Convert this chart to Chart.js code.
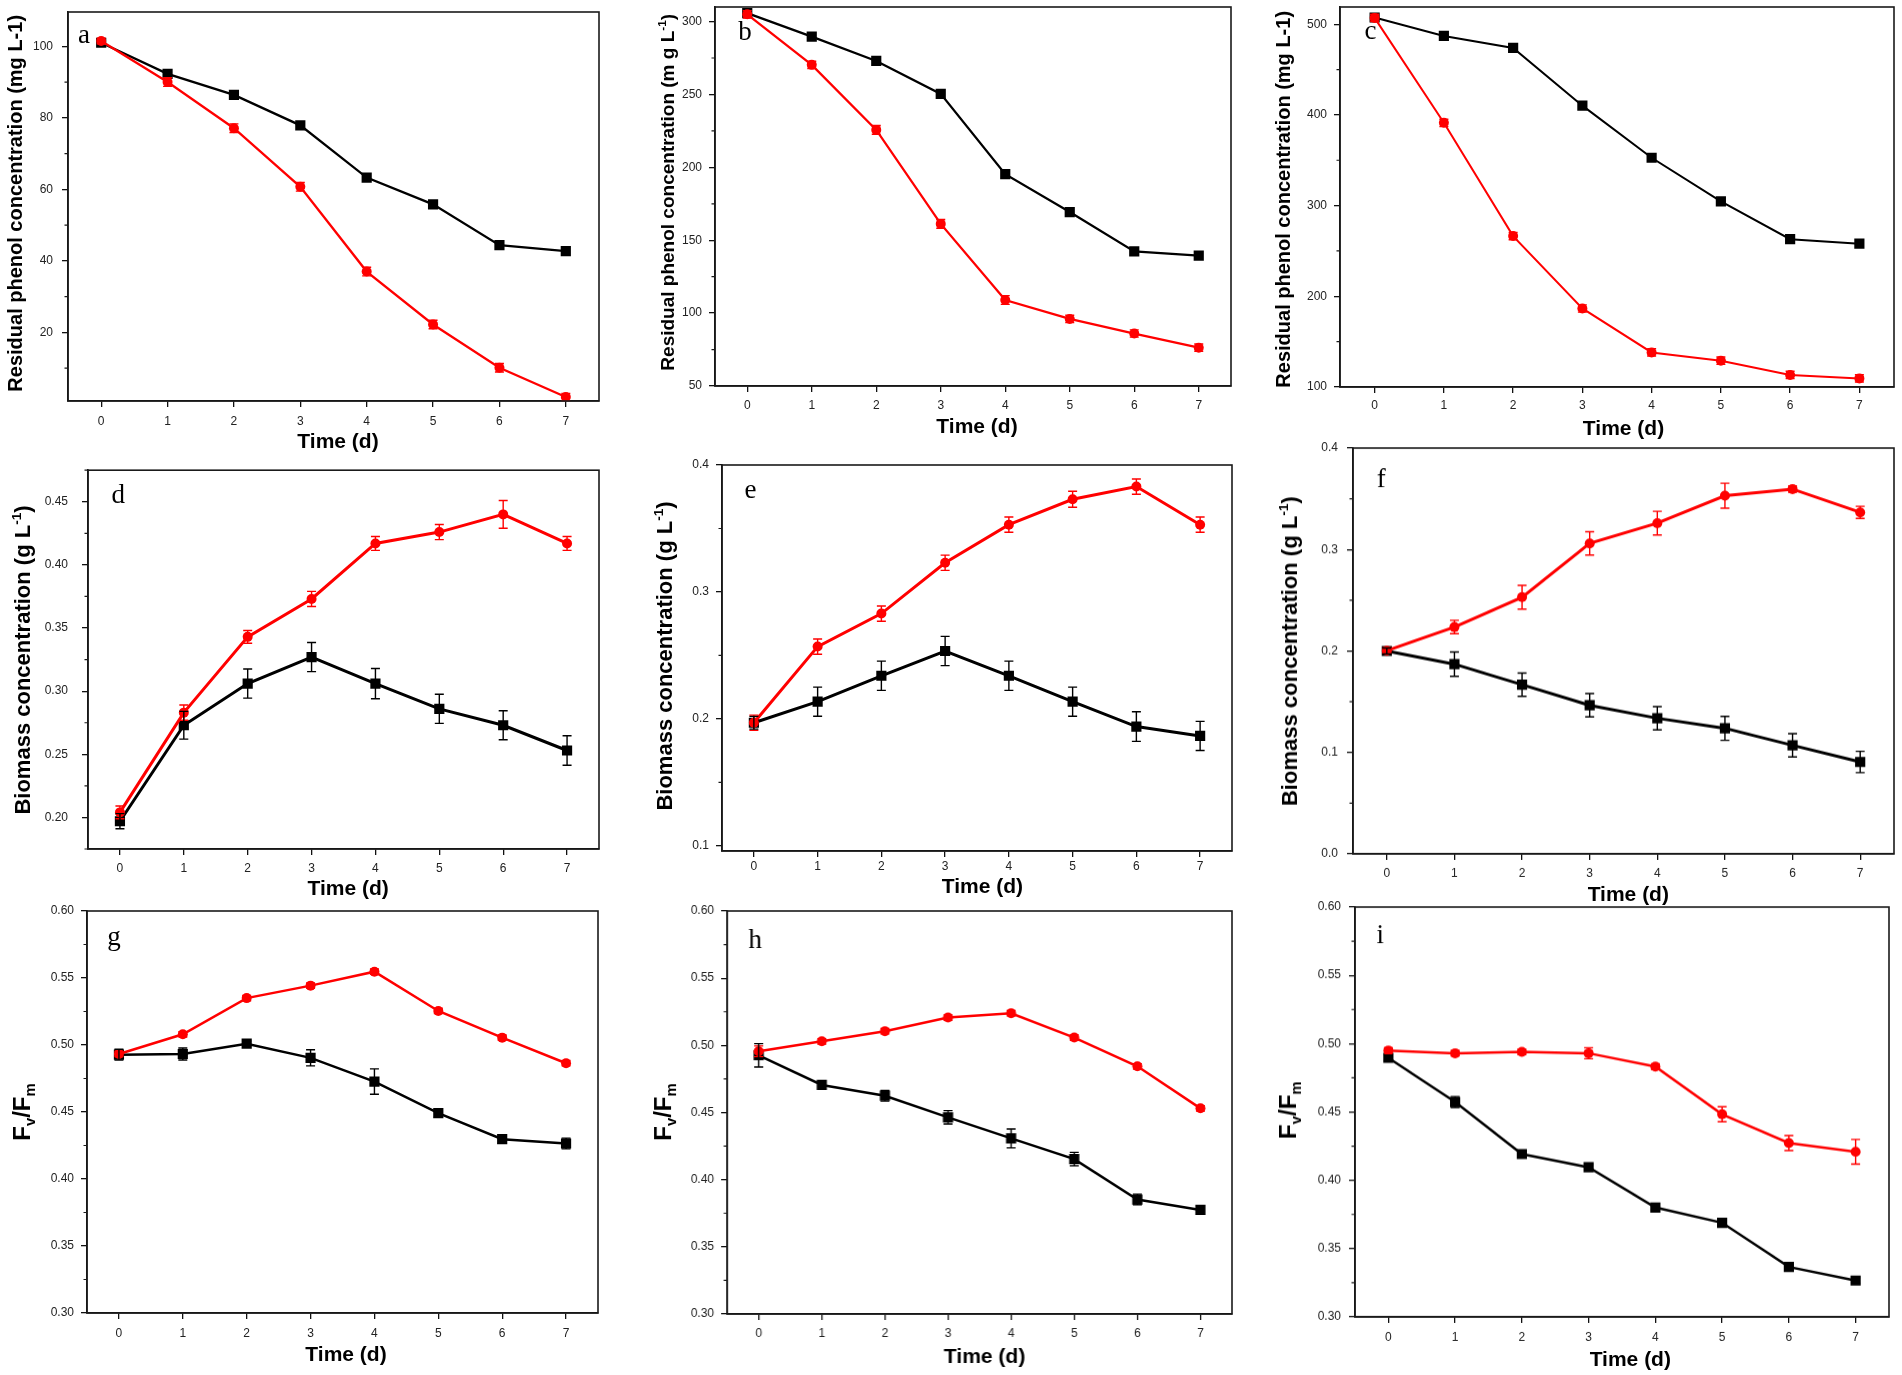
<!DOCTYPE html>
<html><head><meta charset="utf-8">
<script src="https://cdn.jsdelivr.net/npm/chart.js@4.4.1/dist/chart.umd.min.js"></script>
<style>
html,body{margin:0;padding:0;background:#fff;width:1902px;height:1375px;overflow:hidden;position:relative}
canvas{position:absolute}
</style></head><body>
<script>
// ---------- data ----------
const days = ['0','1','2','3','4','5','6','7'];

const aBlack = [101.0, 92.3, 86.4, 77.9, 63.3, 55.8, 44.4, 42.7];
const aRed   = [101.5, 90.0, 77.1, 60.7, 37.0, 22.2, 10.1, 1.9];
const aRedErr = [0.8, 1.2, 1.2, 1.2, 1.2, 1.2, 1.2, 1.0];
const aYTicks = ['20','40','60','80','100'];
const aRange = [0.8, 109.6];

const bBlack = [305.8, 289.7, 273.0, 250.4, 195.3, 169.3, 142.3, 139.5];
const bRed   = [305.0, 270.3, 225.7, 161.2, 109.0, 96.0, 86.0, 76.3];
const bRedErr = [2.5, 2.5, 3, 3, 3, 2.5, 2.5, 2.5];
const bYTicks = ['50','100','150','200','250','300'];
const bRange = [50, 310];

const cBlack = [507.4, 487.1, 473.9, 410.2, 352.8, 304.6, 263.0, 258.0];
const cRed   = [507.0, 391.3, 266.4, 186.6, 138.1, 129.0, 113.3, 109.5];
const cRedErr = [4, 4, 4, 4, 4, 4, 4, 4];
const cYTicks = ['100','200','300','400','500'];
const cRange = [100, 519];

const dRed   = [0.204, 0.283, 0.343, 0.373, 0.417, 0.426, 0.440, 0.417];
const dRedErr = [0.005, 0.006, 0.005, 0.006, 0.0055, 0.006, 0.011, 0.0055];
const dBlack = [0.197, 0.273, 0.306, 0.327, 0.306, 0.286, 0.273, 0.253];
const dBlackErr = [0.006, 0.011, 0.0115, 0.0115, 0.012, 0.0115, 0.0115, 0.0117];
const dYTicks = ['0.20','0.25','0.30','0.35','0.40','0.45'];
const dRange = [0.175, 0.475];

const eRed   = [0.197, 0.257, 0.283, 0.323, 0.353, 0.373, 0.383, 0.353];
const eRedErr = [0.006, 0.006, 0.006, 0.006, 0.006, 0.0063, 0.006, 0.006];
const eBlack = [0.197, 0.2136, 0.234, 0.2535, 0.234, 0.2136, 0.194, 0.1866];
const eBlackErr = [0.005, 0.0115, 0.0115, 0.0115, 0.0115, 0.0115, 0.0117, 0.0115];
const eYTicks = ['0.1','0.2','0.3','0.4'];
const eRange = [0.096, 0.4];

const fRed   = [0.2003, 0.2236, 0.253, 0.306, 0.326, 0.353, 0.3596, 0.3366];
const fRedErr = [0.003, 0.0066, 0.0117, 0.0115, 0.0117, 0.0123, 0.003, 0.006];
const fBlack = [0.200, 0.187, 0.1668, 0.1465, 0.1337, 0.1238, 0.107, 0.0906];
const fBlackErr = [0.003, 0.012, 0.0115, 0.0115, 0.0115, 0.0118, 0.0115, 0.0105];
const fYTicks = ['0.0','0.1','0.2','0.3','0.4'];
const fRange = [0, 0.4];

const gRed   = [0.4933, 0.508, 0.535, 0.5443, 0.5547, 0.5254, 0.5055, 0.4864];
const gRedErr = [0.002, 0.002, 0.002, 0.002, 0.002, 0.002, 0.002, 0.002];
const gBlack = [0.4928, 0.4933, 0.501, 0.4904, 0.4727, 0.4491, 0.4297, 0.4265];
const gBlackErr = [0.004, 0.0045, 0.002, 0.006, 0.0095, 0.003, 0.003, 0.004];

const hRed   = [0.4956, 0.503, 0.5105, 0.5207, 0.5239, 0.5058, 0.4844, 0.4531];
const hRedErr = [0.004, 0.002, 0.002, 0.002, 0.002, 0.002, 0.002, 0.002];
const hBlack = [0.4926, 0.4705, 0.4625, 0.4464, 0.4307, 0.4153, 0.3852, 0.3775];
const hBlackErr = [0.0087, 0.003, 0.004, 0.005, 0.007, 0.005, 0.004, 0.002];

const iRed   = [0.495, 0.493, 0.494, 0.493, 0.4832, 0.4483, 0.4273, 0.4209];
const iRedErr = [0.002, 0.002, 0.002, 0.004, 0.002, 0.0055, 0.0055, 0.009];
const iBlack = [0.4896, 0.4573, 0.4192, 0.4095, 0.3801, 0.3689, 0.3366, 0.3266];
const iBlackErr = [0.002, 0.004, 0.002, 0.002, 0.002, 0.002, 0.002, 0.002];

const fvYTicks = ['0.30','0.35','0.40','0.45','0.50','0.55','0.60'];
const fvRange = [0.30, 0.60];

const xTitle = 'Time (d)';
const phenolTitleA = [{t:'Residual phenol concentration (mg L-1)'}];
const phenolTitleB = [{t:'Residual phenol concentration (m g L'},{t:'-1',sup:true},{t:')'}];
const phenolTitleC = [{t:'Residual phenol concentration (mg L-1)'}];
const biomassTitle = [{t:'Biomass concentration (g L'},{t:'-1',sup:true},{t:')'}];
const fvTitle = [{t:'F'},{t:'v',sub:true},{t:'/F'},{t:'m',sub:true}];

// ---------- layout (positions / styles) ----------
const SANS = "'Liberation Sans', Arial, Helvetica, sans-serif";
const SERIF = "'Liberation Serif', 'Times New Roman', serif";
const RED = '#ff0000', BLACK = '#000000';

const PANELS = [
 {id:'a', letter:'a', black:aBlack, red:aRed, redErr:aRedErr, ticks:aYTicks, range:aRange, yTitle:phenolTitleA,
  plot:[68,11.7,599,400.7], yT:[15,203], yTSize:20, xT:[338,440], lt:[84,43], yPad:9, xPad:7, lw:2.3, tickFont:12},
 {id:'b', letter:'b', black:bBlack, red:bRed, redErr:bRedErr, ticks:bYTicks, range:bRange, yTitle:phenolTitleB,
  plot:[715,6.7,1231,386.3], yT:[667,192], yTSize:19, xT:[977,425], lt:[745,40], yPad:7, xPad:6, lw:2.3, tickFont:12},
 {id:'c', letter:'c', black:cBlack, red:cRed, redErr:cRedErr, ticks:cYTicks, range:cRange, yTitle:phenolTitleC,
  plot:[1339.5,6.7,1894,387], yT:[1282,199], yTSize:20, xT:[1623,427], lt:[1370,39], yPad:7, xPad:5, lw:2.0, tickFont:12},
 {id:'d', letter:'d', black:dBlack, blackErr:dBlackErr, red:dRed, redErr:dRedErr, ticks:dYTicks, range:dRange, yTitle:biomassTitle,
  plot:[87.8,469,599,849], yT:[22,660], yTSize:22, xT:[348,887], lt:[118,503], yPad:14, xPad:6, lw:3, tickFont:12},
 {id:'e', letter:'e', black:eBlack, blackErr:eBlackErr, red:eRed, redErr:eRedErr, ticks:eYTicks, range:eRange, yTitle:biomassTitle,
  plot:[721.6,465,1231.8,851], yT:[664,656], yTSize:22, xT:[982,885], lt:[750,498], yPad:7, xPad:2, lw:3, tickFont:12},
 {id:'f', letter:'f', black:fBlack, blackErr:fBlackErr, red:fRed, redErr:fRedErr, ticks:fYTicks, range:fRange, yTitle:biomassTitle,
  plot:[1352.7,448.3,1894,854.3], yT:[1289,651], yTSize:22, xT:[1628,893], lt:[1381,487], yPad:9, xPad:6, lw:3, tickFont:12},
 {id:'g', letter:'g', black:gBlack, blackErr:gBlackErr, red:gRed, redErr:gRedErr, ticks:fvYTicks, range:fvRange, yTitle:fvTitle,
  plot:[87,911,598.4,1313.3], yT:[21,1112], yTSize:24, xT:[346,1353], lt:[114,945], yPad:7, xPad:7, lw:2.5, tickFont:12},
 {id:'h', letter:'h', black:hBlack, blackErr:hBlackErr, red:hRed, redErr:hRedErr, ticks:fvYTicks, range:fvRange, yTitle:fvTitle,
  plot:[727,911,1231.8,1314.3], yT:[662,1112], yTSize:24, xT:[984,1355], lt:[755,948], yPad:7, xPad:6, lw:2.5, tickFont:12},
 {id:'i', letter:'i', black:iBlack, blackErr:iBlackErr, red:iRed, redErr:iRedErr, ticks:fvYTicks, range:fvRange, yTitle:fvTitle,
  plot:[1354.7,907.3,1889,1316.7], yT:[1287,1110], yTSize:24, xT:[1630,1358], lt:[1380,943], yPad:8, xPad:7, lw:2.5, tickFont:12},
];

// ---------- helpers ----------
function drawRich(ctx, segs, size, weight) {
  // draws centered at (0,0), baseline middle-ish
  const parts = segs.map(s => {
    const fs = (s.sup || s.sub) ? size * 0.62 : size;
    ctx.font = `${weight} ${fs}px ${SANS}`;
    return {s, fs, w: ctx.measureText(s.t).width};
  });
  const total = parts.reduce((a, p) => a + p.w, 0);
  let x = -total / 2;
  ctx.textAlign = 'left';
  ctx.textBaseline = 'alphabetic';
  const base = size * 0.36;
  for (const p of parts) {
    ctx.font = `${weight} ${p.fs}px ${SANS}`;
    let dy = 0;
    if (p.s.sup) dy = -size * 0.42;
    if (p.s.sub) dy = size * 0.22;
    ctx.fillText(p.s.t, x, base + dy);
    x += p.w;
  }
}

const decor = {
  id: 'decor',
  afterDatasetsDraw(chart, args, o) {
    const ctx = chart.ctx, ys = chart.scales.y;
    chart.data.datasets.forEach((ds, i) => {
      if (!ds.errors) return;
      const meta = chart.getDatasetMeta(i);
      ctx.save();
      ctx.strokeStyle = ds.borderColor;
      ctx.lineWidth = 1.4;
      meta.data.forEach((pt, j) => {
        const v = ds.data[j], e = ds.errors[j];
        const y1 = ys.getPixelForValue(v + e), y2 = ys.getPixelForValue(v - e);
        ctx.beginPath();
        ctx.moveTo(pt.x, y1); ctx.lineTo(pt.x, y2);
        ctx.moveTo(pt.x - 4.5, y1); ctx.lineTo(pt.x + 4.5, y1);
        ctx.moveTo(pt.x - 4.5, y2); ctx.lineTo(pt.x + 4.5, y2);
        ctx.stroke();
      });
      ctx.restore();
    });
  },
  afterDraw(chart, args, o) {
    const ctx = chart.ctx, ca = chart.chartArea, ys = chart.scales.y;
    ctx.save();
    // frame
    ctx.strokeStyle = '#1a1a1a';
    ctx.lineWidth = 1.6;
    ctx.strokeRect(ca.left, ca.top, ca.right - ca.left, ca.bottom - ca.top);
    // minor ticks on y
    const majors = ys.ticks.map(t => t.value);
    const step = majors[1] - majors[0];
    const minors = [majors[0] - step / 2].concat(majors.map(v => v + step / 2));
    ctx.lineWidth = 1.2;
    ctx.beginPath();
    minors.forEach(v => {
      if (v < ys.min || v > ys.max) return;
      const py = ys.getPixelForValue(v);
      ctx.moveTo(ca.left - 3.5, py); ctx.lineTo(ca.left, py);
    });
    ctx.stroke();
    // titles
    ctx.fillStyle = '#000';
    const bx = o.box[0], by = o.box[1];
    ctx.save();
    ctx.translate(o.yT[0] - bx, o.yT[1] - by);
    ctx.rotate(-Math.PI / 2);
    drawRich(ctx, o.yTitle, o.yTSize, 'bold');
    ctx.restore();
    ctx.save();
    ctx.translate(o.xT[0] - bx, o.xT[1] - by);
    drawRich(ctx, [{t: o.xTitle}], 21, 'bold');
    ctx.restore();
    // panel letter
    ctx.font = `27px ${SERIF}`;
    ctx.textAlign = 'center';
    ctx.textBaseline = 'alphabetic';
    ctx.fillText(o.letter, o.lt[0] - bx, o.lt[1] - by);
    ctx.restore();
  }
};

function makePanel(P) {
  const [pl, pt, pr, pb] = P.plot;
  const box = [pl - 80, pt - 20, (pr + 12) - (pl - 80), (pb + 62) - (pt - 20)];
  const cv = document.createElement('canvas');
  cv.width = box[2]; cv.height = box[3];
  cv.style.left = box[0] + 'px'; cv.style.top = box[1] + 'px';
  cv.style.width = box[2] + 'px'; cv.style.height = box[3] + 'px';
  document.body.appendChild(cv);
  const yVals = P.ticks.map(Number);
  const datasets = [
    {data: P.red, errors: P.redErr, borderColor: RED, backgroundColor: RED, borderWidth: P.lw,
     pointStyle: 'circle', pointRadius: 5, pointBorderWidth: 0, tension: 0},
    {data: P.black, errors: P.blackErr, borderColor: BLACK, backgroundColor: BLACK, borderWidth: P.lw,
     pointStyle: 'rect', pointRadius: 7.2, pointBorderWidth: 0, tension: 0}
  ];
  new Chart(cv, {
    type: 'line',
    data: {labels: days, datasets},
    options: {
      responsive: false, animation: false, devicePixelRatio: 1,
      layout: {padding: {left: 0, top: pt - box[1], right: box[0] + box[2] - pr, bottom: 0}},
      plugins: {
        legend: {display: false}, tooltip: {enabled: false},
        decor: {box, yT: P.yT, yTitle: P.yTitle, yTSize: P.yTSize, xT: P.xT, xTitle, lt: P.lt, letter: P.letter}
      },
      scales: {
        x: {
          type: 'category', offset: true,
          grid: {display: true, drawOnChartArea: false, drawTicks: true, tickLength: 6, color: '#111', lineWidth: 1.3},
          border: {display: true, color: '#111', width: 1.6},
          ticks: {color: '#222', font: {family: SANS, size: P.tickFont}, padding: P.xPad, maxRotation: 0, autoSkip: false},
          afterFit: s => { s.height = box[1] + box[3] - pb; }
        },
        y: {
          type: 'linear', min: P.range[0], max: P.range[1],
          afterBuildTicks: s => { s.ticks = yVals.map(v => ({value: v})); },
          grid: {display: true, drawOnChartArea: false, drawTicks: true, tickLength: 6, color: '#111', lineWidth: 1.3},
          border: {display: true, color: '#111', width: 1.6},
          ticks: {color: '#222', font: {family: SANS, size: P.tickFont}, padding: P.yPad, autoSkip: false,
            callback: (v) => { const k = yVals.findIndex(t => Math.abs(t - v) < 1e-9); return k >= 0 ? P.ticks[k] : ''; }},
          afterFit: s => { s.width = pl - box[0]; }
        }
      }
    },
    plugins: [decor]
  });
}
PANELS.forEach(makePanel);
</script>
</body></html>
